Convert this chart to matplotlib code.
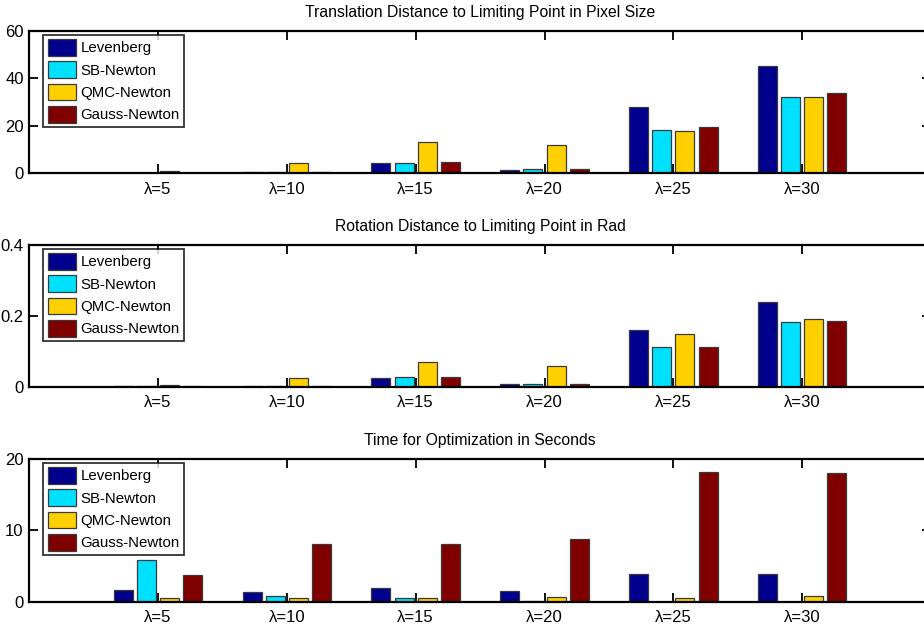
import matplotlib
matplotlib.use("Agg")
import matplotlib.pyplot as plt
import numpy as np

categories = ["λ=5", "λ=10", "λ=15", "λ=20", "λ=25", "λ=30"]
methods = ["Levenberg", "SB-Newton", "QMC-Newton", "Gauss-Newton"]
colors = ["#00008C", "#00E1FF", "#FFD000", "#800000"]

# Translation distance (pixels)
trans_lev = [0.1, 0.5, 4.2, 1.5, 27.8, 45.4]
trans_sb = [0.1, 0.5, 4.2, 1.8, 18.3, 32.1]
trans_qmc = [1.1, 4.2, 13.1, 12.1, 17.8, 32.3]
trans_gn = [0.2, 0.7, 4.6, 1.8, 19.4, 33.9]

# Rotation distance (rad)
rot_lev = [0.001, 0.003, 0.025, 0.008, 0.159, 0.239]
rot_sb = [0.001, 0.001, 0.027, 0.007, 0.112, 0.182]
rot_qmc = [0.005, 0.024, 0.071, 0.058, 0.149, 0.190]
rot_gn = [0.001, 0.001, 0.027, 0.008, 0.112, 0.185]

# Time (seconds)
time_lev = [1.64, 1.40, 1.96, 1.54, 3.84, 3.93]
time_sb = [5.85, 0.75, 0.47, 0.06, 0.02, 0.02]
time_qmc = [0.52, 0.47, 0.47, 0.66, 0.52, 0.80]
time_gn = [3.70, 8.13, 8.05, 8.80, 18.15, 18.05]

titles = ["Translation Distance to Limiting Point in Pixel Size",
          "Rotation Distance to Limiting Point in Rad",
          "Time for Optimization in Seconds"]
ylims = [(0, 60), (0, 0.4), (0, 20)]
yticks = [[0, 20, 40, 60], [0, 0.2, 0.4], [0, 10, 20]]
yticklabels = [["0", "20", "40", "60"], ["0", "0.2", "0.4"], ["0", "10", "20"]]
datasets = [
    [trans_lev, trans_sb, trans_qmc, trans_gn],
    [rot_lev, rot_sb, rot_qmc, rot_gn],
    [time_lev, time_sb, time_qmc, time_gn],
]

FONT = ["Liberation Sans", "DejaVu Sans"]
plt.rcParams["font.family"] = FONT

fig = plt.figure(figsize=(9.24, 6.30), dpi=100)
W, H = 924.0, 630.0
# (top_px, bottom_px) for each axes
rows = [(31, 173.3), (245, 386.7), (459, 601.7)]
left_px, right_px = 29.2, 931.0

x = np.arange(1, len(categories) + 1)
offsets = [-0.27, -0.09, 0.09, 0.27]
bw = 0.148

for i, (top, bot) in enumerate(rows):
    ax = fig.add_axes([left_px / W, 1 - bot / H, (right_px - left_px) / W, (bot - top) / H])
    for j, (vals, c, m) in enumerate(zip(datasets[i], colors, methods)):
        ax.bar(x + offsets[j], vals, width=bw, color=c, edgecolor="#3a3a3a",
               linewidth=0.9, label=m, zorder=2)
    ax.set_xlim(0, 7)
    ax.set_ylim(*ylims[i])
    ax.set_xticks(x)
    ax.set_xticklabels(categories, fontsize=12)
    ax.set_yticks(yticks[i])
    ax.set_yticklabels(yticklabels[i], fontsize=12)
    ax.tick_params(direction="in", length=6.5, width=1.3, top=True, right=True,
                   pad=4, colors="black")
    ax.tick_params(axis="x", pad=6)
    for s in ax.spines.values():
        s.set_linewidth(1.6)
        s.set_zorder(3)
    ax.set_title(titles[i], fontsize=11.3, pad=10)
    leg = ax.legend(loc="upper left", bbox_to_anchor=(0.0155, 0.975), borderaxespad=0,
                    fontsize=10.8, frameon=True, fancybox=False, handlelength=1.9,
                    handleheight=1.35, handletextpad=0.3, labelspacing=0.36,
                    borderpad=0.3)
    leg.get_frame().set_edgecolor("black")
    leg.get_frame().set_linewidth(1.3)

fig.savefig("out.png", dpi=100)
